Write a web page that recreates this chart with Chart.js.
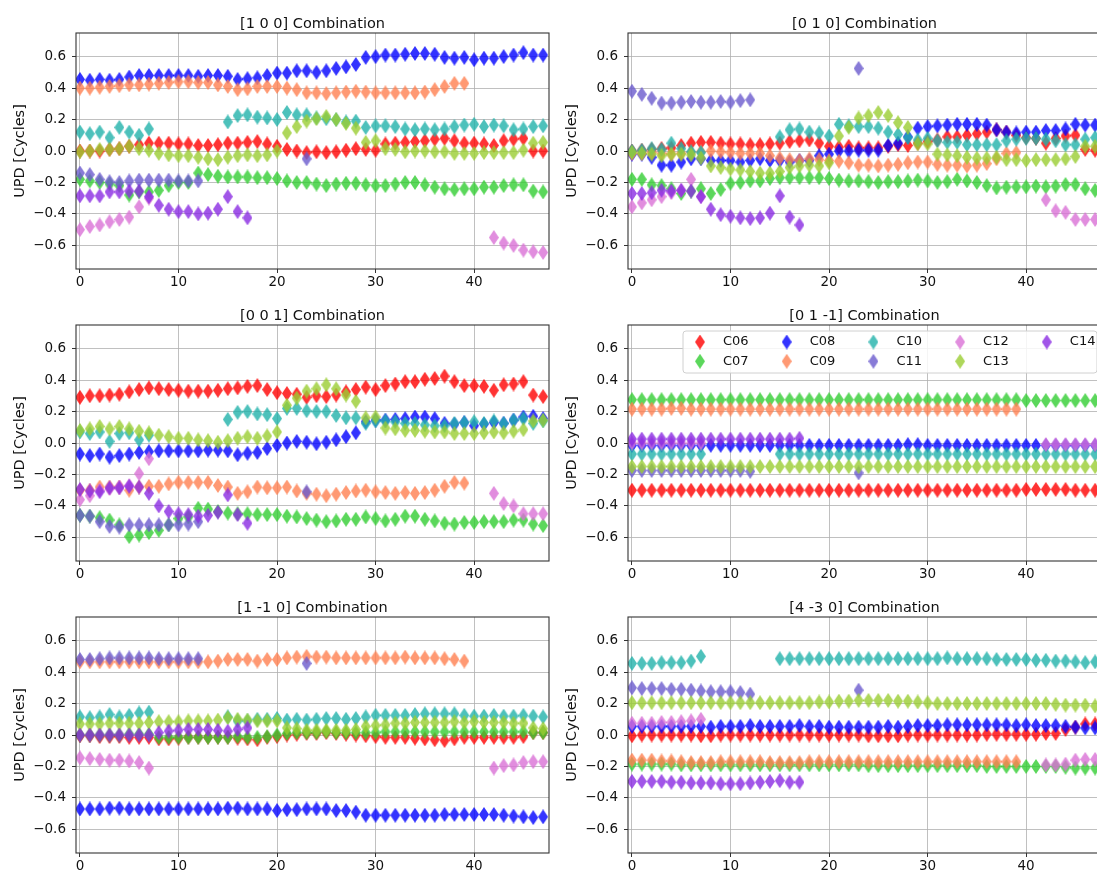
<!DOCTYPE html>
<html>
  <head>
    <title>UPD Combinations</title>
    <script src="https://cdn.jsdelivr.net/npm/chart.js"></script>
    <style>
      html, body { margin: 0; width: 1097px; height: 872px; overflow: hidden; background: #fff; }
      body { position: relative; }
      .cell { position: absolute; width: 555px; height: 291px; overflow: hidden; }
      .cell.right { width: 545px; }
      .panel { position: absolute; left: 0; top: 0; width: 555px; height: 291px; }
    </style>
  </head>
  <body>
    <div class="cell" style="left:0px;top:0px"><div class="panel"><canvas id="c100"></canvas></div></div>
    <div class="cell right" style="left:552px;top:0px"><div class="panel"><canvas id="c010"></canvas></div></div>
    <div class="cell" style="left:0px;top:292px"><div class="panel"><canvas id="c001"></canvas></div></div>
    <div class="cell right" style="left:552px;top:292px"><div class="panel"><canvas id="c01m1"></canvas></div></div>
    <div class="cell" style="left:0px;top:584px"><div class="panel"><canvas id="c1m10"></canvas></div></div>
    <div class="cell right" style="left:552px;top:584px"><div class="panel"><canvas id="c4m30"></canvas></div></div>
    <script>
      const _ = null; // no value for this epoch

      const EPOCHS = [0, 1, 2, 3, 4, 5, 6, 7, 8, 9, 10, 11, 12, 13, 14, 15, 16, 17, 18, 19, 20, 21, 22, 23,
                      24, 25, 26, 27, 28, 29, 30, 31, 32, 33, 34, 35, 36, 37, 38, 39, 40, 41, 42, 43, 44, 45, 46, 47];
      const SATS = ['C06', 'C07', 'C08', 'C09', 'C10', 'C11', 'C12', 'C13', 'C14'];
      const X_TICKS = [0, 10, 20, 30, 40];
      const Y_TICKS = [-0.6, -0.4, -0.2, 0, 0.2, 0.4, 0.6];
      const TITLES = ['[1 0 0] Combination', '[0 1 0] Combination', '[0 0 1] Combination',
                      '[0 1 -1] Combination', '[1 -1 0] Combination', '[4 -3 0] Combination'];

      // ---- [1 0 0] ----
      const P1_C06 = [0.00, 0.00, 0.00, 0.01, 0.015, 0.03, 0.04, 0.05, 0.05, 0.05, 0.045, 0.045,
                      0.035, 0.035, 0.04, 0.05, 0.05, 0.055, 0.06, 0.045, 0.03, 0.01, 0.00, -0.01,
                      -0.005, -0.01, -0.005, 0.005, 0.015, 0.01, 0.005, 0.045, 0.05, 0.055, 0.06, 0.065,
                      0.075, 0.08, 0.065, 0.05, 0.05, 0.045, 0.035, 0.065, 0.075, 0.08, 0.00, 0.00];
      const P1_C07 = [-0.18, -0.19, -0.20, -0.21, -0.22, -0.28, -0.26, -0.26, -0.25, -0.22, -0.20, -0.20,
                      -0.14, -0.15, -0.16, -0.165, -0.165, -0.165, -0.17, -0.17, -0.175, -0.19, -0.20, -0.20,
                      -0.21, -0.22, -0.21, -0.205, -0.205, -0.215, -0.22, -0.22, -0.21, -0.20, -0.20, -0.215,
                      -0.23, -0.24, -0.245, -0.24, -0.24, -0.23, -0.23, -0.22, -0.215, -0.215, -0.255, -0.26];
      const P1_C08 = [0.455, 0.45, 0.455, 0.45, 0.455, 0.47, 0.48, 0.48, 0.48, 0.48, 0.48, 0.48,
                      0.475, 0.48, 0.48, 0.475, 0.455, 0.46, 0.465, 0.48, 0.495, 0.495, 0.51, 0.51,
                      0.50, 0.51, 0.525, 0.535, 0.55, 0.595, 0.60, 0.61, 0.61, 0.615, 0.62, 0.62,
                      0.615, 0.595, 0.59, 0.595, 0.58, 0.59, 0.59, 0.60, 0.61, 0.625, 0.61, 0.61];
      const P1_C09 = [0.40, 0.40, 0.405, 0.41, 0.415, 0.42, 0.42, 0.425, 0.43, 0.435, 0.44, 0.44,
                      0.435, 0.435, 0.42, 0.41, 0.39, 0.395, 0.41, 0.41, 0.41, 0.40, 0.39, 0.37,
                      0.37, 0.365, 0.37, 0.375, 0.38, 0.375, 0.37, 0.37, 0.37, 0.37, 0.37, 0.375,
                      0.39, 0.41, 0.43, 0.43, _, _, _, _, _, _, _, _];
      const P1_C10 = [0.12, 0.11, 0.12, 0.085, 0.15, 0.12, 0.10, 0.14, _, _, _, _,
                      _, _, _, 0.185, 0.225, 0.23, 0.215, 0.21, 0.20, 0.245, 0.23, 0.23,
                      0.21, 0.205, 0.20, 0.185, 0.19, 0.15, 0.16, 0.16, 0.155, 0.14, 0.135, 0.14,
                      0.135, 0.14, 0.155, 0.165, 0.17, 0.155, 0.165, 0.16, 0.135, 0.14, 0.155, 0.16];
      const P1_C11 = [-0.14, -0.15, -0.18, -0.195, -0.20, -0.19, -0.185, -0.185, -0.185, -0.185, -0.19, -0.19,
                      -0.19, _, _, _, _, _, _, _, _, _, _, -0.05,
                      _, _, _, _, _, _, _, _, _, _, _, _,
                      _, _, _, _, _, _, _, _, _, _, _, _];
      const P1_C12 = [-0.50, -0.48, -0.47, -0.45, -0.435, -0.42, -0.355, -0.30, _, _, _, _,
                      _, _, _, _, _, _, _, _, _, _, _, _,
                      _, _, _, _, _, _, _, _, _, _, _, _,
                      _, _, _, _, _, _, -0.55, -0.585, -0.60, -0.63, -0.64, -0.645];
      const P1_C13 = [-0.005, 0.00, 0.01, 0.01, 0.015, 0.03, 0.015, 0.005, -0.015, -0.025, -0.03, -0.03,
                      -0.04, -0.05, -0.055, -0.04, -0.03, -0.025, -0.03, -0.025, 0.00, 0.115, 0.155, 0.19,
                      0.205, 0.22, 0.20, 0.175, 0.145, 0.055, 0.065, 0.015, 0.01, -0.005, 0.00, 0.00,
                      -0.005, -0.005, -0.015, -0.015, -0.015, -0.01, -0.01, -0.01, -0.01, 0.005, 0.05, 0.055];
      const P1_C14 = [-0.285, -0.285, -0.285, -0.26, -0.26, -0.255, -0.255, -0.29, -0.345, -0.37, -0.385, -0.385,
                      -0.40, -0.395, -0.37, -0.29, -0.385, -0.425, _, _, _, _, _, _,
                      _, _, _, _, _, _, _, _, _, _, _, _,
                      _, _, _, _, _, _, _, _, _, _, _, _];

      // ---- [0 1 0] ----
      const P2_C06 = [0.00, 0.005, 0.01, 0.015, 0.02, 0.035, 0.05, 0.055, 0.055, 0.05, 0.045, 0.045,
                      0.04, 0.04, 0.045, 0.05, 0.06, 0.065, 0.07, 0.05, 0.03, 0.025, 0.03, 0.02,
                      0.02, 0.02, 0.03, 0.04, 0.035, 0.05, 0.06, 0.07, 0.09, 0.09, 0.10, 0.11,
                      0.12, 0.135, 0.12, 0.10, 0.085, 0.08, 0.05, 0.08, 0.095, 0.10, 0.01, 0.005];
      const P2_C07 = [-0.18, -0.18, -0.215, -0.22, -0.24, -0.27, -0.255, -0.24, -0.27, -0.245, -0.205, -0.20,
                      -0.19, -0.19, -0.175, -0.17, -0.17, -0.17, -0.17, -0.17, -0.175, -0.185, -0.19, -0.19,
                      -0.195, -0.20, -0.195, -0.195, -0.19, -0.185, -0.19, -0.20, -0.195, -0.18, -0.19, -0.20,
                      -0.22, -0.235, -0.23, -0.228, -0.228, -0.223, -0.228, -0.223, -0.213, -0.213, -0.24, -0.25];
      const P2_C08 = [-0.02, -0.02, -0.04, -0.09, -0.09, -0.07, -0.05, -0.05, -0.06, -0.06, -0.06, -0.07,
                      -0.06, -0.05, -0.06, -0.06, -0.07, -0.06, -0.06, -0.03, -0.02, 0.00, 0.00, 0.005,
                      0.005, 0.005, 0.035, 0.05, 0.09, 0.145, 0.155, 0.16, 0.165, 0.17, 0.17, 0.17,
                      0.165, 0.135, 0.12, 0.115, 0.12, 0.12, 0.13, 0.13, 0.14, 0.17, 0.165, 0.165];
      const P2_C09 = [-0.015, -0.015, -0.01, -0.015, -0.02, -0.015, -0.01, -0.005, 0.00, -0.005, -0.01, -0.015,
                      -0.015, -0.015, -0.03, -0.045, -0.055, -0.06, -0.05, -0.055, -0.06, -0.065, -0.075, -0.09,
                      -0.09, -0.095, -0.09, -0.085, -0.075, -0.07, -0.07, -0.085, -0.09, -0.09, -0.095, -0.09,
                      -0.08, -0.05, -0.015, -0.01, _, _, _, _, _, _, _, _];
      const P2_C10 = [0.00, 0.005, 0.015, 0.01, 0.05, 0.015, -0.005, -0.01, _, _, _, _,
                      _, _, _, 0.09, 0.135, 0.14, 0.12, 0.115, 0.095, 0.17, 0.16, 0.155,
                      0.155, 0.145, 0.12, 0.105, 0.085, 0.07, 0.08, 0.065, 0.055, 0.055, 0.04, 0.04,
                      0.04, 0.04, 0.065, 0.075, 0.08, 0.08, 0.075, 0.065, 0.04, 0.04, 0.075, 0.085];
      const P2_C11 = [0.38, 0.36, 0.335, 0.305, 0.305, 0.31, 0.315, 0.31, 0.31, 0.315, 0.31, 0.32,
                      0.325, _, _, _, _, _, _, _, _, _, _, 0.525,
                      _, _, _, _, _, _, _, _, _, _, _, _,
                      _, _, _, _, _, _, _, _, _, _, _, _];
      const P2_C12 = [-0.355, -0.33, -0.31, -0.29, -0.265, -0.25, -0.18, -0.29, _, _, _, _,
                      _, _, _, _, _, _, _, _, _, _, _, _,
                      _, _, _, _, _, _, _, _, _, _, _, _,
                      _, _, _, _, _, _, -0.31, -0.38, -0.39, -0.435, -0.435, -0.435];
      const P2_C13 = [-0.01, -0.015, -0.02, -0.03, -0.02, -0.02, -0.025, -0.045, -0.095, -0.105, -0.115, -0.12,
                      -0.13, -0.14, -0.14, -0.13, -0.105, -0.095, -0.09, -0.095, -0.075, 0.095, 0.15, 0.21,
                      0.225, 0.245, 0.225, 0.18, 0.15, 0.045, 0.045, -0.02, -0.025, -0.03, -0.04, -0.045,
                      -0.045, -0.04, -0.055, -0.055, -0.06, -0.055, -0.055, -0.055, -0.05, -0.035, 0.03, 0.03];
      const P2_C14 = [-0.27, -0.27, -0.265, -0.25, -0.255, -0.25, -0.255, -0.29, -0.37, -0.405, -0.415, -0.425,
                      -0.43, -0.425, -0.395, -0.285, -0.42, -0.47, _, _, _, _, _, _,
                      _, _, _, _, _, _, _, _, _, _, _, _,
                      _, _, _, _, _, _, _, _, _, _, _, _];

      // ---- [0 0 1] ----
      const P3_C06 = [0.29, 0.30, 0.30, 0.305, 0.31, 0.325, 0.34, 0.35, 0.345, 0.34, 0.335, 0.33,
                      0.33, 0.33, 0.335, 0.345, 0.35, 0.36, 0.365, 0.34, 0.32, 0.315, 0.31, 0.29,
                      0.30, 0.295, 0.305, 0.325, 0.34, 0.355, 0.34, 0.365, 0.375, 0.39, 0.39, 0.405,
                      0.41, 0.425, 0.39, 0.365, 0.365, 0.36, 0.335, 0.37, 0.375, 0.39, 0.305, 0.295];
      const P3_C07 = [-0.46, -0.465, -0.475, -0.49, -0.52, -0.595, -0.585, -0.57, -0.555, -0.52, -0.48, -0.47,
                      -0.415, -0.42, -0.435, -0.445, -0.45, -0.45, -0.455, -0.455, -0.455, -0.465, -0.47, -0.48,
                      -0.49, -0.50, -0.495, -0.485, -0.485, -0.47, -0.48, -0.495, -0.485, -0.465, -0.465, -0.485,
                      -0.495, -0.51, -0.515, -0.505, -0.505, -0.50, -0.50, -0.50, -0.49, -0.49, -0.515, -0.525];
      const P3_C08 = [-0.07, -0.08, -0.07, -0.09, -0.08, -0.07, -0.06, -0.055, -0.05, -0.05, -0.05, -0.05,
                      -0.05, -0.045, -0.045, -0.05, -0.075, -0.065, -0.06, -0.035, -0.015, 0.00, 0.01, 0.005,
                      -0.005, 0.005, 0.02, 0.04, 0.065, 0.135, 0.145, 0.145, 0.15, 0.155, 0.165, 0.165,
                      0.155, 0.125, 0.12, 0.13, 0.11, 0.12, 0.13, 0.125, 0.145, 0.165, 0.17, 0.155];
      const P3_C09 = [-0.30, -0.30, -0.28, -0.28, -0.28, -0.30, -0.28, -0.275, -0.275, -0.26, -0.25, -0.25,
                      -0.25, -0.25, -0.27, -0.28, -0.32, -0.31, -0.28, -0.285, -0.285, -0.28, -0.305, -0.32,
                      -0.325, -0.335, -0.325, -0.315, -0.305, -0.30, -0.31, -0.315, -0.32, -0.315, -0.32, -0.315,
                      -0.30, -0.275, -0.25, -0.255, _, _, _, _, _, _, _, _];
      const P3_C10 = [0.07, 0.06, 0.07, 0.01, 0.06, 0.065, 0.02, 0.05, _, _, _, _,
                      _, _, _, 0.15, 0.195, 0.20, 0.185, 0.18, 0.155, 0.22, 0.22, 0.205,
                      0.20, 0.20, 0.175, 0.16, 0.16, 0.125, 0.14, 0.14, 0.135, 0.125, 0.125, 0.115,
                      0.11, 0.11, 0.125, 0.13, 0.135, 0.125, 0.14, 0.125, 0.145, 0.155, 0.125, 0.14];
      const P3_C11 = [-0.46, -0.465, -0.50, -0.53, -0.535, -0.52, -0.52, -0.52, -0.52, -0.52, -0.52, -0.515,
                      -0.50, _, _, _, _, _, _, _, _, _, _, -0.31,
                      _, _, _, _, _, _, _, _, _, _, _, _,
                      _, _, _, _, _, _, _, _, _, _, _, _];
      const P3_C12 = [-0.36, -0.335, -0.30, -0.29, -0.28, -0.27, -0.195, -0.10, _, _, _, _,
                      _, _, _, _, _, _, _, _, _, _, _, _,
                      _, _, _, _, _, _, _, _, _, _, _, _,
                      _, _, _, _, _, _, -0.32, -0.385, -0.40, -0.45, -0.45, -0.45];
      const P3_C13 = [0.08, 0.09, 0.105, 0.09, 0.105, 0.09, 0.075, 0.065, 0.05, 0.04, 0.03, 0.03,
                      0.02, 0.015, 0.005, 0.015, 0.03, 0.04, 0.03, 0.045, 0.07, 0.24, 0.285, 0.33,
                      0.345, 0.37, 0.345, 0.305, 0.265, 0.16, 0.165, 0.095, 0.09, 0.08, 0.08, 0.075,
                      0.07, 0.07, 0.06, 0.06, 0.06, 0.065, 0.07, 0.065, 0.075, 0.085, 0.14, 0.145];
      const P3_C14 = [-0.295, -0.305, -0.31, -0.285, -0.285, -0.275, -0.28, -0.32, -0.40, -0.435, -0.45, -0.455,
                      -0.465, -0.46, -0.44, -0.33, -0.455, -0.51, _, _, _, _, _, _,
                      _, _, _, _, _, _, _, _, _, _, _, _,
                      _, _, _, _, _, _, _, _, _, _, _, _];

      // ---- [0 1 -1] ----
      const P4_C06 = [-0.30, -0.30, -0.30, -0.30, -0.30, -0.30, -0.30, -0.30, -0.30, -0.30, -0.30, -0.30,
                      -0.30, -0.30, -0.30, -0.30, -0.30, -0.30, -0.30, -0.30, -0.30, -0.30, -0.30, -0.30,
                      -0.30, -0.30, -0.30, -0.30, -0.30, -0.30, -0.30, -0.30, -0.30, -0.30, -0.30, -0.30,
                      -0.30, -0.30, -0.30, -0.30, -0.295, -0.295, -0.295, -0.295, -0.295, -0.30, -0.30, -0.30];
      const P4_C07 = [0.275, 0.275, 0.275, 0.275, 0.275, 0.275, 0.275, 0.275, 0.275, 0.275, 0.275, 0.275,
                      0.275, 0.275, 0.275, 0.275, 0.275, 0.275, 0.275, 0.275, 0.275, 0.275, 0.275, 0.275,
                      0.275, 0.275, 0.275, 0.275, 0.275, 0.275, 0.275, 0.275, 0.275, 0.275, 0.275, 0.275,
                      0.275, 0.275, 0.275, 0.275, 0.27, 0.27, 0.27, 0.27, 0.27, 0.27, 0.27, 0.27];
      const P4_C08 = [-0.015, -0.015, -0.015, -0.015, -0.015, -0.015, -0.015, -0.015, -0.015, -0.015, -0.015, -0.015,
                      -0.015, -0.015, -0.015, -0.015, -0.015, -0.015, -0.015, -0.015, -0.015, -0.015, -0.015, -0.015,
                      -0.015, -0.015, -0.015, -0.015, -0.01, -0.01, -0.015, -0.015, -0.015, -0.015, -0.015, -0.015,
                      -0.015, -0.015, -0.015, -0.015, -0.015, -0.015, -0.015, -0.015, -0.015, -0.015, -0.015, -0.015];
      const P4_C09 = [0.215, 0.215, 0.215, 0.215, 0.22, 0.22, 0.215, 0.215, 0.215, 0.215, 0.215, 0.215,
                      0.215, 0.215, 0.215, 0.215, 0.215, 0.215, 0.215, 0.215, 0.215, 0.215, 0.215, 0.215,
                      0.215, 0.215, 0.215, 0.215, 0.215, 0.215, 0.215, 0.215, 0.215, 0.215, 0.215, 0.215,
                      0.215, 0.215, 0.215, 0.215, _, _, _, _, _, _, _, _];
      const P4_C10 = [-0.07, -0.07, -0.07, -0.07, -0.07, -0.07, -0.07, -0.07, _, _, _, _,
                      _, _, _, -0.07, -0.07, -0.07, -0.07, -0.07, -0.07, -0.07, -0.07, -0.07,
                      -0.07, -0.07, -0.07, -0.07, -0.07, -0.07, -0.07, -0.07, -0.07, -0.07, -0.07, -0.07,
                      -0.07, -0.07, -0.07, -0.07, -0.07, -0.07, -0.07, -0.07, -0.07, -0.07, -0.07, -0.07];
      const P4_C11 = [-0.175, -0.175, -0.175, -0.175, -0.175, -0.175, -0.175, -0.175, -0.175, -0.175, -0.175, -0.175,
                      -0.18, _, _, _, _, _, _, _, _, _, _, -0.19,
                      _, _, _, _, _, _, _, _, _, _, _, _,
                      _, _, _, _, _, _, _, _, _, _, _, _];
      const P4_C12 = [0.00, 0.00, 0.00, 0.00, 0.00, 0.00, 0.00, 0.00, _, _, _, _,
                      _, _, _, _, _, _, _, _, _, _, _, _,
                      _, _, _, _, _, _, _, _, _, _, _, _,
                      _, _, _, _, _, _, -0.01, -0.01, -0.01, -0.01, -0.01, -0.01];
      const P4_C13 = [-0.15, -0.15, -0.15, -0.15, -0.15, -0.15, -0.15, -0.15, -0.15, -0.15, -0.15, -0.15,
                      -0.15, -0.15, -0.15, -0.15, -0.15, -0.15, -0.15, -0.15, -0.15, -0.15, -0.15, -0.15,
                      -0.15, -0.15, -0.15, -0.15, -0.15, -0.15, -0.15, -0.15, -0.15, -0.15, -0.15, -0.15,
                      -0.15, -0.15, -0.15, -0.15, -0.15, -0.15, -0.15, -0.15, -0.15, -0.15, -0.15, -0.15];
      const P4_C14 = [0.025, 0.025, 0.025, 0.025, 0.025, 0.025, 0.025, 0.025, 0.025, 0.025, 0.025, 0.025,
                      0.025, 0.025, 0.025, 0.025, 0.025, 0.03, _, _, _, _, _, _,
                      _, _, _, _, _, _, _, _, _, _, _, _,
                      _, _, _, _, _, _, _, _, _, _, _, _];

      // ---- [1 -1 0] ----
      const P5_C06 = [-0.005, -0.005, -0.01, -0.01, -0.01, -0.015, -0.015, -0.015, -0.025, -0.025, -0.02, -0.015,
                      -0.015, -0.015, -0.015, -0.015, -0.02, -0.025, -0.03, -0.015, -0.01, 0.00, 0.005, 0.01,
                      0.01, 0.015, 0.01, 0.005, 0.00, -0.005, -0.01, -0.015, -0.015, -0.015, -0.02, -0.025,
                      -0.03, -0.035, -0.025, -0.015, -0.015, -0.015, -0.015, -0.015, -0.015, -0.01, 0.015, 0.015];
      const P5_C07 = [0.00, 0.00, 0.00, 0.00, 0.00, 0.005, 0.005, 0.005, -0.015, -0.015, -0.015, -0.015,
                      -0.015, -0.015, -0.015, -0.015, -0.01, -0.015, -0.015, -0.01, 0.00, 0.01, 0.015, 0.015,
                      0.015, 0.02, 0.015, 0.015, 0.015, 0.015, 0.015, 0.02, 0.02, 0.02, 0.02, 0.02,
                      0.02, 0.02, 0.02, 0.02, 0.02, 0.02, 0.02, 0.02, 0.02, 0.02, 0.015, 0.015];
      const P5_C08 = [-0.47, -0.47, -0.47, -0.465, -0.465, -0.47, -0.47, -0.47, -0.47, -0.47, -0.47, -0.47,
                      -0.47, -0.47, -0.47, -0.465, -0.465, -0.47, -0.47, -0.47, -0.48, -0.475, -0.475, -0.47,
                      -0.47, -0.47, -0.48, -0.48, -0.49, -0.51, -0.51, -0.51, -0.51, -0.51, -0.51, -0.51,
                      -0.51, -0.505, -0.505, -0.505, -0.505, -0.505, -0.505, -0.51, -0.515, -0.52, -0.525, -0.52];
      const P5_C09 = [0.465, 0.465, 0.465, 0.465, 0.465, 0.465, 0.465, 0.465, 0.465, 0.465, 0.465, 0.465,
                      0.465, 0.465, 0.47, 0.48, 0.48, 0.48, 0.47, 0.48, 0.48, 0.49, 0.495, 0.50,
                      0.495, 0.495, 0.49, 0.49, 0.49, 0.49, 0.49, 0.49, 0.49, 0.495, 0.49, 0.49,
                      0.49, 0.485, 0.48, 0.47, _, _, _, _, _, _, _, _];
      const P5_C10 = [0.115, 0.11, 0.115, 0.13, 0.115, 0.125, 0.14, 0.145, _, _, _, _,
                      _, _, _, 0.115, 0.09, 0.09, 0.10, 0.10, 0.105, 0.095, 0.10, 0.095,
                      0.10, 0.105, 0.105, 0.10, 0.105, 0.115, 0.125, 0.125, 0.125, 0.125, 0.13, 0.135,
                      0.135, 0.135, 0.135, 0.125, 0.12, 0.12, 0.125, 0.12, 0.12, 0.125, 0.12, 0.115];
      const P5_C11 = [0.48, 0.48, 0.485, 0.49, 0.49, 0.49, 0.49, 0.49, 0.485, 0.485, 0.485, 0.485,
                      0.485, _, _, _, _, _, _, _, _, _, _, 0.455,
                      _, _, _, _, _, _, _, _, _, _, _, _,
                      _, _, _, _, _, _, _, _, _, _, _, _];
      const P5_C12 = [-0.145, -0.15, -0.155, -0.16, -0.16, -0.165, -0.175, -0.21, _, _, _, _,
                      _, _, _, _, _, _, _, _, _, _, _, _,
                      _, _, _, _, _, _, _, _, _, _, _, _,
                      _, _, _, _, _, _, -0.21, -0.195, -0.19, -0.175, -0.17, -0.17];
      const P5_C13 = [0.07, 0.07, 0.07, 0.075, 0.075, 0.075, 0.075, 0.08, 0.085, 0.085, 0.085, 0.09,
                      0.09, 0.09, 0.095, 0.11, 0.10, 0.095, 0.09, 0.09, 0.09, 0.045, 0.04, 0.03,
                      0.03, 0.03, 0.03, 0.03, 0.035, 0.055, 0.06, 0.065, 0.075, 0.075, 0.08, 0.08,
                      0.08, 0.08, 0.085, 0.08, 0.085, 0.08, 0.08, 0.08, 0.075, 0.075, 0.045, 0.04];
      const P5_C14 = [0.00, 0.00, 0.00, 0.00, 0.00, 0.00, 0.00, 0.00, 0.015, 0.025, 0.03, 0.035,
                      0.035, 0.035, 0.03, 0.025, 0.035, 0.045, _, _, _, _, _, _,
                      _, _, _, _, _, _, _, _, _, _, _, _,
                      _, _, _, _, _, _, _, _, _, _, _, _];

      // ---- [4 -3 0] ----
      const P6_C06 = [-0.005, 0.00, 0.00, 0.00, 0.00, 0.00, 0.00, -0.005, -0.005, 0.00, 0.00, 0.00,
                      0.00, 0.00, 0.00, 0.00, 0.00, 0.00, 0.00, 0.00, 0.00, 0.00, 0.00, 0.00,
                      -0.005, -0.005, -0.005, -0.005, 0.00, 0.00, 0.00, 0.00, 0.00, 0.00, 0.00, 0.00,
                      0.005, 0.005, 0.005, 0.005, 0.005, 0.005, 0.01, 0.01, 0.035, 0.05, 0.07, 0.07];
      const P6_C07 = [-0.185, -0.185, -0.185, -0.185, -0.185, -0.19, -0.19, -0.19, -0.19, -0.19, -0.19, -0.19,
                      -0.19, -0.19, -0.19, -0.19, -0.19, -0.19, -0.19, -0.19, -0.19, -0.19, -0.19, -0.19,
                      -0.195, -0.195, -0.195, -0.195, -0.195, -0.195, -0.195, -0.195, -0.195, -0.195, -0.195, -0.195,
                      -0.20, -0.20, -0.20, -0.20, -0.20, -0.20, -0.20, -0.20, -0.205, -0.21, -0.21, -0.21];
      const P6_C08 = [0.055, 0.055, 0.055, 0.055, 0.055, 0.055, 0.055, 0.055, 0.05, 0.055, 0.055, 0.055,
                      0.06, 0.055, 0.055, 0.055, 0.055, 0.06, 0.055, 0.055, 0.05, 0.05, 0.05, 0.05,
                      0.05, 0.05, 0.055, 0.05, 0.055, 0.06, 0.06, 0.06, 0.065, 0.065, 0.065, 0.065,
                      0.065, 0.065, 0.065, 0.06, 0.065, 0.06, 0.06, 0.06, 0.055, 0.05, 0.045, 0.045];
      const P6_C09 = [-0.16, -0.16, -0.16, -0.165, -0.165, -0.17, -0.175, -0.175, -0.175, -0.17, -0.17, -0.17,
                      -0.17, -0.17, -0.175, -0.175, -0.175, -0.175, -0.17, -0.17, -0.17, -0.17, -0.17, -0.17,
                      -0.17, -0.17, -0.17, -0.17, -0.17, -0.17, -0.17, -0.17, -0.17, -0.17, -0.17, -0.17,
                      -0.17, -0.17, -0.17, -0.17, _, _, _, _, _, _, _, _];
      const P6_C10 = [0.455, 0.455, 0.455, 0.46, 0.46, 0.46, 0.47, 0.50, _, _, _, _,
                      _, _, _, 0.485, 0.485, 0.485, 0.485, 0.485, 0.485, 0.485, 0.485, 0.485,
                      0.485, 0.485, 0.485, 0.485, 0.485, 0.485, 0.485, 0.485, 0.49, 0.485, 0.485, 0.485,
                      0.485, 0.48, 0.48, 0.48, 0.48, 0.475, 0.475, 0.47, 0.47, 0.465, 0.46, 0.465];
      const P6_C11 = [0.30, 0.295, 0.295, 0.295, 0.29, 0.29, 0.285, 0.28, 0.275, 0.275, 0.275, 0.27,
                      0.26, _, _, _, _, _, _, _, _, _, _, 0.285,
                      _, _, _, _, _, _, _, _, _, _, _, _,
                      _, _, _, _, _, _, _, _, _, _, _, _];
      const P6_C12 = [0.075, 0.075, 0.075, 0.08, 0.08, 0.085, 0.09, 0.10, _, _, _, _,
                      _, _, _, _, _, _, _, _, _, _, _, _,
                      _, _, _, _, _, _, _, _, _, _, _, _,
                      _, _, _, _, _, _, -0.19, -0.19, -0.185, -0.16, -0.155, -0.155];
      const P6_C13 = [0.205, 0.205, 0.205, 0.205, 0.205, 0.205, 0.205, 0.205, 0.205, 0.205, 0.205, 0.205,
                      0.205, 0.205, 0.205, 0.205, 0.205, 0.205, 0.205, 0.21, 0.21, 0.215, 0.215, 0.22,
                      0.22, 0.22, 0.22, 0.215, 0.215, 0.21, 0.205, 0.20, 0.20, 0.20, 0.20, 0.20,
                      0.20, 0.20, 0.20, 0.20, 0.20, 0.20, 0.20, 0.195, 0.19, 0.19, 0.19, 0.185];
      const P6_C14 = [-0.295, -0.295, -0.295, -0.295, -0.30, -0.30, -0.305, -0.305, -0.305, -0.31, -0.31, -0.31,
                      -0.305, -0.30, -0.295, -0.29, -0.30, -0.30, _, _, _, _, _, _,
                      _, _, _, _, _, _, _, _, _, _, _, _,
                      _, _, _, _, _, _, _, _, _, _, _, _];

      const SAT_COLORS = ['#ff0000', '#32cd32', '#0000ff', '#ff7f50', '#20b2aa',
                          '#6a5acd', '#da70d6', '#9acd32', '#8a2be2'];
      const FONT = "'DejaVu Sans', sans-serif";
      const TEXT = '#111';
      const GRID = 'rgba(176,176,176,0.8)';

      // thin diamond, like matplotlib 'd'
      function diamond(color) {
        const c = document.createElement('canvas');
        c.width = 10; c.height = 15;
        const g = c.getContext('2d');
        g.globalAlpha = 0.8;
        g.fillStyle = color;
        g.beginPath();
        g.moveTo(5, 0); g.lineTo(10, 7.5); g.lineTo(5, 15); g.lineTo(0, 7.5);
        g.closePath();
        g.fill();
        return c;
      }
      const MARKERS = SAT_COLORS.map(diamond);

      const frame = {
        id: 'frame',
        afterDatasetsDraw(chart) {
          const { ctx, chartArea: a } = chart;
          ctx.save();
          ctx.strokeStyle = '#333';
          ctx.lineWidth = 1.1;
          ctx.strokeRect(a.left, a.top, a.right - a.left, a.bottom - a.top);
          ctx.restore();
        }
      };

      // legend box in the upper right, filled column by column like matplotlib ncol=5
      const satLegend = {
        id: 'satLegend',
        afterDraw(chart) {
          const { ctx, chartArea: a } = chart;
          const x0 = a.left + 55, y0 = a.top + 6, h = 42;
          ctx.save();
          ctx.fillStyle = 'rgba(255,255,255,0.85)';
          ctx.strokeStyle = '#d0d0d0';
          ctx.lineWidth = 1;
          ctx.beginPath();
          ctx.roundRect(x0, y0, a.right - 4 - x0, h, 3);
          ctx.fill();
          ctx.stroke();
          ctx.font = '13px ' + FONT;
          ctx.fillStyle = TEXT;
          ctx.textBaseline = 'middle';
          chart.data.datasets.forEach((ds, i) => {
            const col = Math.floor(i / 2), row = i % 2;
            const mx = x0 + 17 + col * 86.7;
            const my = y0 + 11 + row * 19.3;
            const img = MARKERS[i];
            ctx.drawImage(img, mx - img.width / 2, my - img.height / 2);
            ctx.fillText(ds.label, mx + 23, my);
          });
          ctx.restore();
        }
      };

      function fmtY(v) {
        const s = Math.abs(v).toFixed(1);
        return v < -1e-9 ? '\u2212' + s : s;
      }

      function makeChart(id, title, series, withLegend) {
        return new Chart(document.getElementById(id), {
          type: 'scatter',
          data: {
            datasets: SATS.map((name, i) => ({
              label: name,
              data: EPOCHS.map((x, k) => series[i][k] === null ? null : { x: x, y: series[i][k] })
                          .filter(p => p),
              pointStyle: MARKERS[i],
              pointRadius: 5,
              pointHoverRadius: 5,
              backgroundColor: SAT_COLORS[i],
              borderColor: SAT_COLORS[i],
              order: SATS.length - i
            }))
          },
          options: {
            animation: false,
            responsive: true,
            maintainAspectRatio: false,
            events: [],
            layout: { padding: { right: 6 } },
            plugins: {
              legend: { display: false },
              tooltip: { enabled: false },
              title: {
                display: true,
                text: title,
                fullSize: false,
                color: TEXT,
                font: { family: FONT, size: 14.5, weight: 'normal', lineHeight: '17px' },
                padding: { top: 16, bottom: 0 }
              }
            },
            scales: {
              x: {
                type: 'linear',
                min: -0.4,
                max: 47.6,
                afterBuildTicks: s => { s.ticks = X_TICKS.map(v => ({ value: v })); },
                afterFit: s => { s.height = 22; },
                border: { display: false },
                grid: { color: GRID, lineWidth: 1, tickLength: 4, tickColor: '#333', tickWidth: 1 },
                ticks: { color: TEXT, font: { family: FONT, size: 13.5 }, padding: 1, maxRotation: 0, autoSkip: false }
              },
              y: {
                min: -0.75,
                max: 0.75,
                afterBuildTicks: s => { s.ticks = Y_TICKS.map(v => ({ value: v })); },
                afterFit: s => { s.width = 76; },
                border: { display: false },
                grid: { color: GRID, lineWidth: 1, tickLength: 4, tickColor: '#333', tickWidth: 1 },
                ticks: { color: TEXT, font: { family: FONT, size: 13.5 }, padding: 6, autoSkip: false,
                         callback: v => fmtY(v) },
                title: {
                  display: true,
                  text: 'UPD [Cycles]',
                  color: TEXT,
                  font: { family: FONT, size: 14.5 },
                  padding: { top: 12, bottom: 0 }
                }
              }
            }
          },
          plugins: withLegend ? [frame, satLegend] : [frame]
        });
      }

      makeChart('c100', TITLES[0], [P1_C06, P1_C07, P1_C08, P1_C09, P1_C10, P1_C11, P1_C12, P1_C13, P1_C14], false);
      makeChart('c010', TITLES[1], [P2_C06, P2_C07, P2_C08, P2_C09, P2_C10, P2_C11, P2_C12, P2_C13, P2_C14], false);
      makeChart('c001', TITLES[2], [P3_C06, P3_C07, P3_C08, P3_C09, P3_C10, P3_C11, P3_C12, P3_C13, P3_C14], false);
      makeChart('c01m1', TITLES[3], [P4_C06, P4_C07, P4_C08, P4_C09, P4_C10, P4_C11, P4_C12, P4_C13, P4_C14], true);
      makeChart('c1m10', TITLES[4], [P5_C06, P5_C07, P5_C08, P5_C09, P5_C10, P5_C11, P5_C12, P5_C13, P5_C14], false);
      makeChart('c4m30', TITLES[5], [P6_C06, P6_C07, P6_C08, P6_C09, P6_C10, P6_C11, P6_C12, P6_C13, P6_C14], false);
    </script>
  </body>
</html>
